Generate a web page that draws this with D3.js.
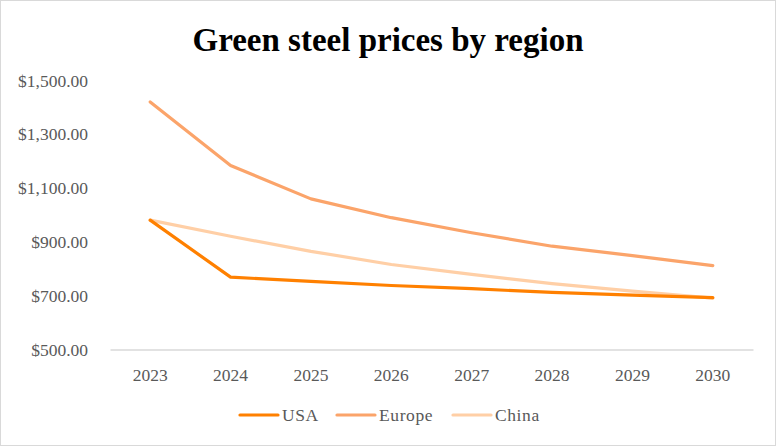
<!DOCTYPE html>
<html><head><meta charset="utf-8">
<script src="https://cdn.jsdelivr.net/npm/d3@7"></script>
<style>body{margin:0;background:#fff}svg{display:block}</style>
</head><body><svg id="c" width="776" height="446"></svg>
<script>
const years = ["2023","2024","2025","2026","2027","2028","2029","2030"];
const usa = [981, 769, 753, 738, 726, 712, 702, 693];
const europe = [1420, 1184, 1060, 990, 934, 884, 849, 812];
const china = [981, 921, 865, 816, 779, 745, 717, 691];
const yTicks = [500, 700, 900, 1100, 1300, 1500];
const seriesNames = ["USA", "Europe", "China"];
const seriesColors = ["#FF8000", "#FBA46A", "#FFCFA6"];

const series = [usa, europe, china].map((v, i) => ({name: seriesNames[i], values: v, color: seriesColors[i]}));
const svg = d3.select("#c");
const font = "'Liberation Serif', serif";
svg.append("rect").attr("x",0.5).attr("y",0.5).attr("width",775).attr("height",445).attr("fill","#fff").attr("stroke","#d9d9d9");

const x = d3.scaleBand().domain(years).range([110, 753]);
const y = d3.scaleLinear().domain([500, 1500]).range([349.5, 80.5]);

svg.append("text").attr("x", 388).attr("y", 51).attr("text-anchor","middle")
  .attr("font-family", font).attr("font-weight","bold").attr("font-size", 33).attr("fill","#000")
  .text("Green steel prices by region");

const fmt = d => "$" + d3.format(",.2f")(d);
const yAxis = svg.append("g").attr("transform","translate(110,0)")
  .call(d3.axisLeft(y).tickValues(yTicks).tickFormat(fmt).tickSize(0).tickPadding(22));
yAxis.select(".domain").remove();
yAxis.selectAll("text").attr("font-family", font).attr("font-size", 17.5).attr("fill","#595959");

const xAxis = svg.append("g").attr("transform","translate(0,349.5)")
  .call(d3.axisBottom(x).tickSize(0).tickPadding(19));
xAxis.select(".domain").attr("stroke","#d9d9d9").attr("stroke-width",1.5);
xAxis.selectAll("text").attr("font-family", font).attr("font-size", 17.5).attr("fill","#595959");

const line = d3.line().x((d,i) => x(years[i]) + x.bandwidth()/2).y(d => y(d));
[series[2], series[1], series[0]].forEach(s => {
  svg.append("path").attr("d", line(s.values)).attr("fill","none")
    .attr("stroke", s.color).attr("stroke-width", 3.2).attr("stroke-linecap","round").attr("stroke-linejoin","round");
});

const legendX = [240, 337, 453];
const lg = svg.append("g");
series.forEach((s, i) => {
  const g = lg.append("g").attr("transform", `translate(${legendX[i]},415)`);
  g.append("line").attr("x1",0).attr("x2",38).attr("y1",0).attr("y2",0)
    .attr("stroke", s.color).attr("stroke-width",3.2).attr("stroke-linecap","round");
  g.append("text").attr("x",42).attr("y",5.5).attr("font-family",font).attr("font-size",17.5)
    .attr("letter-spacing",0.6).attr("fill","#595959").text(s.name);
});
</script></body></html>
